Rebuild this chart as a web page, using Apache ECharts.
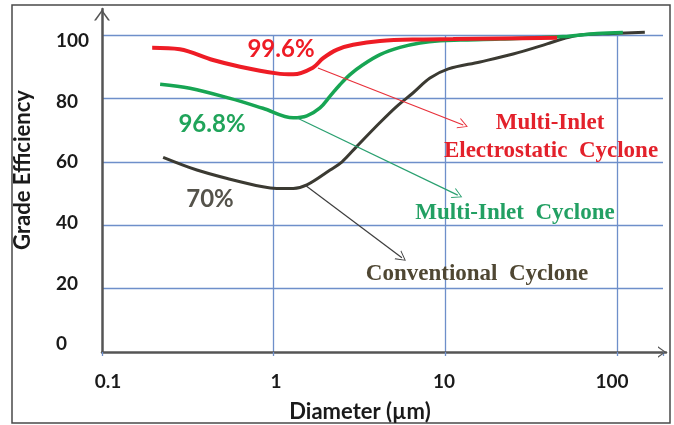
<!DOCTYPE html>
<html>
<head>
<meta charset="utf-8">
<script src="https://cdn.jsdelivr.net/npm/echarts@6/dist/echarts.min.js"></script>
<style>
  html, body { margin: 0; padding: 0; background: #fff; }
  #chart { width: 674px; height: 425px; }
</style>
</head>
<body>
<div id="chart"></div>
<script>
// Grade efficiency curves versus particle diameter (µm), log scale
const convDiam  = [0.227, 0.357, 0.557, 0.865, 1.04, 1.30, 1.56, 2.13, 2.50, 3.04, 4.16, 5.23, 6.47, 8.13, 10.4, 15.9, 24.8, 39.1, 48.4, 60.8, 94.6, 145];
const convEff   = [61.4, 57.4, 54.5, 52.1, 51.6, 51.6, 52.7, 57.4, 60.0, 64.8, 72.4, 77.6, 81.7, 86.4, 89.3, 91.5, 94.0, 97.2, 98.8, 100.0, 100.5, 100.9];

const multiDiam = [0.218, 0.325, 0.557, 0.865, 1.30, 1.56, 1.86, 2.13, 2.43, 2.78, 3.31, 4.16, 5.44, 7.11, 9.30, 12.2, 20.8, 48.4, 76.4, 108];
const multiEff  = [84.5, 83.2, 80.0, 76.9, 73.9, 74.5, 77.0, 80.7, 84.3, 87.5, 90.6, 93.8, 96.1, 97.5, 98.2, 98.4, 98.7, 99.5, 100.5, 100.8];

const elecDiam  = [0.196, 0.284, 0.443, 0.637, 1.04, 1.30, 1.69, 1.94, 2.34, 2.90, 4.16, 7.11, 11.1, 20.8, 44.7];
const elecEff   = [96.0, 95.5, 92.1, 90.0, 87.9, 87.6, 89.7, 92.7, 95.4, 96.9, 98.1, 98.6, 98.7, 98.9, 99.1];

// Tick values
const xTicks = [0.1, 1, 10, 100];
const yTicks = [0, 20, 40, 60, 80, 100];

// Overall efficiencies
const overall = { elec: '99.6%', multi: '96.8%', conv: '70%' };

// Callout arrows: [from, to] in (diameter, efficiency)
const elecArrow  = [[1.81, 89.6], [12.7, 71.6]];
const multiArrow = [[1.37, 73.8], [11.8, 49.5]];
const convArrow  = [[1.52, 52.7], [5.58, 29.7]];

const RED = '#ee1c25';
const GREEN = '#17a553';
const DARK = '#3b3a32';
const GRID_BLUE = '#6e8fca';
const AXIS_GRAY = '#555555';

const chevronAxis = 'path://M0,11 L8,0 L16,11 L14,11 L8,2.6 L2,11 Z';
const chevronThin = 'path://M0,10 L5,0 L10,10 L9,10 L5,1.8 L1,10 Z';

function zip(xs, ys) { return xs.map((x, i) => [x, ys[i]]); }

function arrowLine(pts, color) {
  return {
    silent: true,
    symbol: ['none', chevronThin],
    symbolSize: [11, 10],
    label: { show: false },
    lineStyle: { color: color, width: 1.2, type: 'solid' },
    data: [[{ coord: pts[0] }, { coord: pts[1] }]]
  };
}

const hiddenAxis = {
  show: true,
  axisLine: { show: false }, axisTick: { show: false },
  axisLabel: { show: false }, splitLine: { show: false }
};

const chart = echarts.init(document.getElementById('chart'), null, { renderer: 'canvas' });

chart.setOption({
  animation: false,
  backgroundColor: '#ffffff',
  grid: [
    // plotting area
    { left: 102, right: 11, top: 35, bottom: 73 },
    // axis lines with arrow heads
    { left: 102, right: 8, top: 9, bottom: 73 },
    // y tick labels
    { left: 102, right: 11, top: 41, bottom: 81 },
    // x tick labels
    { left: 108, right: 62, top: 200, bottom: 73 }
  ],
  xAxis: [
    {
      gridIndex: 0, type: 'log', logBase: 10, min: 0.1, max: 185,
      axisLine: { show: false }, axisLabel: { show: false },
      axisTick: { show: true, inside: false, length: 4, lineStyle: { color: GRID_BLUE, width: 1.3 } },
      splitLine: { show: true, showMinLine: false, showMaxLine: false,
                   lineStyle: { color: GRID_BLUE, width: 1.3 } }
    },
    {
      gridIndex: 1, type: 'value', min: 0, max: 1,
      axisLine: { show: true, symbol: ['none', chevronAxis], symbolSize: [16, 8], symbolOffset: [0, -4],
                  lineStyle: { color: AXIS_GRAY, width: 2.5 } },
      axisTick: { show: false }, axisLabel: { show: false }, splitLine: { show: false }
    },
    Object.assign({ gridIndex: 2, type: 'value', min: 0, max: 1 }, hiddenAxis),
    {
      gridIndex: 3, type: 'log', logBase: 10, min: xTicks[0], max: xTicks[xTicks.length - 1],
      axisLine: { show: false }, axisTick: { show: false }, splitLine: { show: false },
      axisLabel: { show: true, margin: 20, color: '#1a1a1a', fontFamily: 'Lato', fontWeight: 'bold', fontSize: 19,
                   formatter: v => String(v) }
    }
  ],
  yAxis: [
    {
      gridIndex: 0, type: 'value', min: yTicks[0], max: yTicks[yTicks.length - 1], interval: 20,
      axisLine: { show: false }, axisTick: { show: false }, axisLabel: { show: false },
      splitLine: { show: true, showMinLine: false, showMaxLine: true,
                   lineStyle: { color: GRID_BLUE, width: 1.3 } }
    },
    {
      gridIndex: 1, type: 'value', min: 0, max: 1,
      axisLine: { show: true, symbol: ['none', chevronAxis], symbolSize: [16, 13], symbolOffset: [0, -6],
                  lineStyle: { color: AXIS_GRAY, width: 2.5 } },
      axisTick: { show: false }, axisLabel: { show: false }, splitLine: { show: false }
    },
    {
      gridIndex: 2, type: 'value', min: yTicks[0], max: yTicks[yTicks.length - 1], interval: 20,
      axisLine: { show: false }, axisTick: { show: false }, splitLine: { show: false },
      axisLabel: { show: true, align: 'left', margin: 46, color: '#1a1a1a',
                   fontFamily: 'Lato', fontWeight: 'bold', fontSize: 19 }
    },
    Object.assign({ gridIndex: 3, type: 'value', min: 0, max: 1 }, hiddenAxis)
  ],
  series: [
    {
      name: 'Conventional Cyclone', type: 'line', xAxisIndex: 0, yAxisIndex: 0,
      data: zip(convDiam, convEff), smooth: 0.35, showSymbol: false, clip: false, silent: true,
      lineStyle: { color: DARK, width: 3 }, z: 3,
      markLine: arrowLine(convArrow, '#3d3d3d')
    },
    {
      name: 'Multi-Inlet Cyclone', type: 'line', xAxisIndex: 0, yAxisIndex: 0,
      data: zip(multiDiam, multiEff), smooth: 0.35, showSymbol: false, clip: false, silent: true,
      lineStyle: { color: GREEN, width: 3.5 }, z: 4,
      markLine: arrowLine(multiArrow, '#2aa070')
    },
    {
      name: 'Multi-Inlet Electrostatic Cyclone', type: 'line', xAxisIndex: 0, yAxisIndex: 0,
      data: zip(elecDiam, elecEff), smooth: 0.35, showSymbol: false, clip: false, silent: true,
      lineStyle: { color: RED, width: 4 }, z: 5,
      markLine: arrowLine(elecArrow, '#e8303a')
    }
  ],
  graphic: [
    { type: 'rect', silent: true, z: 0,
      shape: { x: 12, y: 5, width: 658, height: 418 },
      style: { fill: 'none', stroke: '#4a4a4a', lineWidth: 1.5 } },
    { type: 'text', x: 23, y: 170, rotation: Math.PI / 2, silent: true,
      style: { text: 'Grade Efficiency', fill: '#1a1a1a', font: 'bold 22px Lato',
               align: 'center', verticalAlign: 'middle' } },
    { type: 'text', x: 360, y: 412, silent: true,
      style: { text: 'Diameter (µm)', fill: '#1a1a1a', font: 'bold 22px Lato',
               align: 'center', verticalAlign: 'middle' } },
    { type: 'text', x: 281, y: 49, silent: true, z: 10,
      style: { text: overall.elec, fill: RED, font: 'bold 24px Lato', align: 'center', verticalAlign: 'middle' } },
    { type: 'text', x: 212, y: 124, silent: true, z: 10,
      style: { text: overall.multi, fill: '#20a45a', font: 'bold 24px Lato', align: 'center', verticalAlign: 'middle' } },
    { type: 'text', x: 210, y: 199, silent: true, z: 10,
      style: { text: overall.conv, fill: '#55534b', font: 'bold 24px Lato', align: 'center', verticalAlign: 'middle' } },
    { type: 'text', x: 550, y: 123, silent: true, z: 10,
      style: { text: 'Multi-Inlet', fill: '#e3212b', font: 'bold 23px "Liberation Serif"', align: 'center', verticalAlign: 'middle' } },
    { type: 'text', x: 551, y: 151, silent: true, z: 10,
      style: { text: 'Electrostatic  Cyclone', fill: '#e3212b', font: 'bold 23px "Liberation Serif"', align: 'center', verticalAlign: 'middle' } },
    { type: 'text', x: 515, y: 213, silent: true, z: 10,
      style: { text: 'Multi-Inlet  Cyclone', fill: '#22a063', font: 'bold 23px "Liberation Serif"', align: 'center', verticalAlign: 'middle' } },
    { type: 'text', x: 477, y: 274, silent: true, z: 10,
      style: { text: 'Conventional  Cyclone', fill: '#4f4733', font: 'bold 23px "Liberation Serif"', align: 'center', verticalAlign: 'middle' } }
  ]
});
</script>
</body>
</html>
